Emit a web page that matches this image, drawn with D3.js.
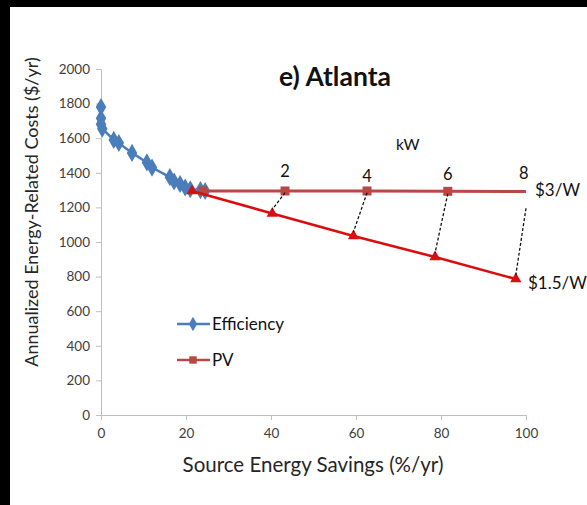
<!DOCTYPE html>
<html>
<head>
<meta charset="utf-8">
<script src="https://cdn.jsdelivr.net/npm/d3@7"></script>
<style>
  body { margin: 0; background: #000; }
  svg { display: block; font-family: Lato, "Open Sans", sans-serif; }
</style>
</head>
<body>
<svg id="chart" width="587" height="505"></svg>
<script>
// efficiency curve
var effX = [0, 0, 0, 0.3, 3, 4.2, 7.3, 10.8, 12, 16.2, 17.2, 18.6, 19.8, 21, 23.4, 24.5];
var effY = [1780, 1715, 1680, 1655, 1590, 1572, 1515, 1460, 1430, 1375, 1350, 1335, 1315, 1305, 1300, 1295];

// PV at $3/W (last point is the line end, no marker shown)
var pv3X = [24, 43.3, 62.6, 81.6, 100];
var pv3Y = [1295, 1295, 1295, 1293, 1292];

// PV at $1.5/W
var pv15X = [21.4, 40.3, 59.4, 78.6, 97.6];
var pv15Y = [1295, 1165, 1035, 913, 786];

// kW annotations
var kwLabels = ["2", "4", "6", "8"];
var kwX = [43.3, 62.6, 81.6, 99.5];
var kwY = [1376, 1347, 1358, 1364];
// dashed connectors start ($3/W side)
var connX = [43.3, 62.6, 81.6, 100];
var connY = [1285, 1285, 1280, 1195];

var xTicks = [0, 20, 40, 60, 80, 100];
var yTicks = [0, 200, 400, 600, 800, 1000, 1200, 1400, 1600, 1800, 2000];

var svg = d3.select("#chart");

// black frame top/left, white page
svg.append("rect").attr("width", 587).attr("height", 505).attr("fill", "#000");
svg.append("rect").attr("x", 10).attr("y", 7).attr("width", 577).attr("height", 498).attr("fill", "#fff");

var x = d3.scaleLinear().domain([0, 100]).range([101, 526]);
var y = d3.scaleLinear().domain([0, 2000]).range([415, 69]);

var axisColor = "#bfbfbf";

// x axis
var xAxis = svg.append("g")
  .attr("transform", "translate(0,415)")
  .call(d3.axisBottom(x).tickValues(xTicks).tickSize(5).tickPadding(8).tickFormat(d3.format("d")));
xAxis.select(".domain").attr("stroke", axisColor);
xAxis.selectAll(".tick line").attr("stroke", axisColor);
xAxis.selectAll("text").attr("font-size", 13.5).attr("fill", "#404040").attr("font-family", "Lato, sans-serif");

// y axis
var yAxis = svg.append("g")
  .attr("transform", "translate(101,0)")
  .call(d3.axisLeft(y).tickValues(yTicks).tickSize(5).tickPadding(6).tickFormat(d3.format("d")));
yAxis.select(".domain").attr("stroke", axisColor);
yAxis.selectAll(".tick line").attr("stroke", axisColor);
yAxis.selectAll("text").attr("font-size", 13.5).attr("fill", "#404040").attr("font-family", "Lato, sans-serif");

// axis titles
svg.append("text")
  .attr("x", 313).attr("y", 472)
  .attr("text-anchor", "middle")
  .attr("font-size", 20.5).attr("fill", "#262626")
  .text("Source Energy Savings (%/yr)");

svg.append("text")
  .attr("transform", "translate(38,212) rotate(-90)")
  .attr("text-anchor", "middle")
  .attr("font-size", 18).attr("fill", "#262626")
  .text("Annualized Energy-Related Costs ($/yr)");

// title
svg.append("text")
  .attr("x", 335).attr("y", 86)
  .attr("text-anchor", "middle")
  .attr("font-size", 26.5).attr("font-weight", "bold").attr("fill", "#111")
  .text("e) Atlanta");

var line = d3.line().x(d => x(d[0])).y(d => y(d[1]));
var blue = "#4a7ebb", darkRed = "#b94744", red = "#d90f0f";

var eff = effX.map((v, i) => [v, effY[i]]);
var pv3 = pv3X.map((v, i) => [v, pv3Y[i]]);
var pv15 = pv15X.map((v, i) => [v, pv15Y[i]]);

// efficiency
svg.append("path").datum(eff).attr("d", line)
  .attr("fill", "none").attr("stroke", blue).attr("stroke-width", 2.5);
svg.selectAll(".eff").data(eff).enter().append("path")
  .attr("class", "eff")
  .attr("transform", d => "translate(" + x(d[0]) + "," + y(d[1]) + ")")
  .attr("d", d3.symbol(d3.symbolDiamond, 95))
  .attr("fill", blue);

// $3/W
svg.append("path").datum(pv3).attr("d", line)
  .attr("fill", "none").attr("stroke", darkRed).attr("stroke-width", 3);
svg.selectAll(".pv3").data(pv3.slice(0, -1)).enter().append("rect")
  .attr("class", "pv3")
  .attr("x", d => x(d[0]) - 4.5).attr("y", d => y(d[1]) - 4.5)
  .attr("width", 9).attr("height", 9)
  .attr("fill", darkRed);

// $1.5/W
svg.append("path").datum(pv15).attr("d", line)
  .attr("fill", "none").attr("stroke", red).attr("stroke-width", 2.5);
svg.selectAll(".pv15").data(pv15).enter().append("path")
  .attr("class", "pv15")
  .attr("transform", d => "translate(" + x(d[0]) + "," + y(d[1]) + ")")
  .attr("d", d3.symbol(d3.symbolTriangle, 55))
  .attr("fill", red);

// dashed connectors
svg.selectAll(".conn").data(connX).enter().append("line")
  .attr("class", "conn")
  .attr("x1", (d, i) => x(d)).attr("y1", (d, i) => y(connY[i]))
  .attr("x2", (d, i) => x(pv15X[i + 1])).attr("y2", (d, i) => y(pv15Y[i + 1]) - 4)
  .attr("stroke", "#111").attr("stroke-width", 1.3).attr("stroke-dasharray", "3,2");

// kW labels
svg.selectAll(".kw").data(kwLabels).enter().append("text")
  .attr("class", "kw")
  .attr("x", (d, i) => x(kwX[i])).attr("y", (d, i) => y(kwY[i]))
  .attr("text-anchor", "middle").attr("font-size", 16.5).attr("fill", "#111")
  .text(d => d);

svg.append("text").attr("x", x(72.2)).attr("y", y(1532))
  .attr("text-anchor", "middle").attr("font-size", 15.5).attr("fill", "#111").text("kW");
svg.append("text").attr("x", 535).attr("y", 196)
  .attr("font-size", 17).attr("fill", "#111").text("$3/W");
svg.append("text").attr("x", 528).attr("y", 289)
  .attr("font-size", 17).attr("fill", "#111").text("$1.5/W");

// legend
var legend = [{ name: "Efficiency", color: blue, sym: "diamond", cy: 324 },
              { name: "PV", color: darkRed, sym: "square", cy: 360 }];
var lg = svg.selectAll(".lg").data(legend).enter().append("g").attr("class", "lg");
lg.append("line").attr("x1", 177).attr("x2", 210).attr("y1", d => d.cy).attr("y2", d => d.cy)
  .attr("stroke", d => d.color).attr("stroke-width", 2.5);
lg.append("path")
  .attr("transform", d => "translate(193," + d.cy + ")")
  .attr("d", d => d3.symbol(d.sym === "diamond" ? d3.symbolDiamond : d3.symbolSquare, d.sym === "diamond" ? 60 : 55)())
  .attr("fill", d => d.color);
lg.append("text").attr("x", 212).attr("y", d => d.cy + 6)
  .attr("font-size", 17).attr("fill", "#111").text(d => d.name);
</script>
</body>
</html>
